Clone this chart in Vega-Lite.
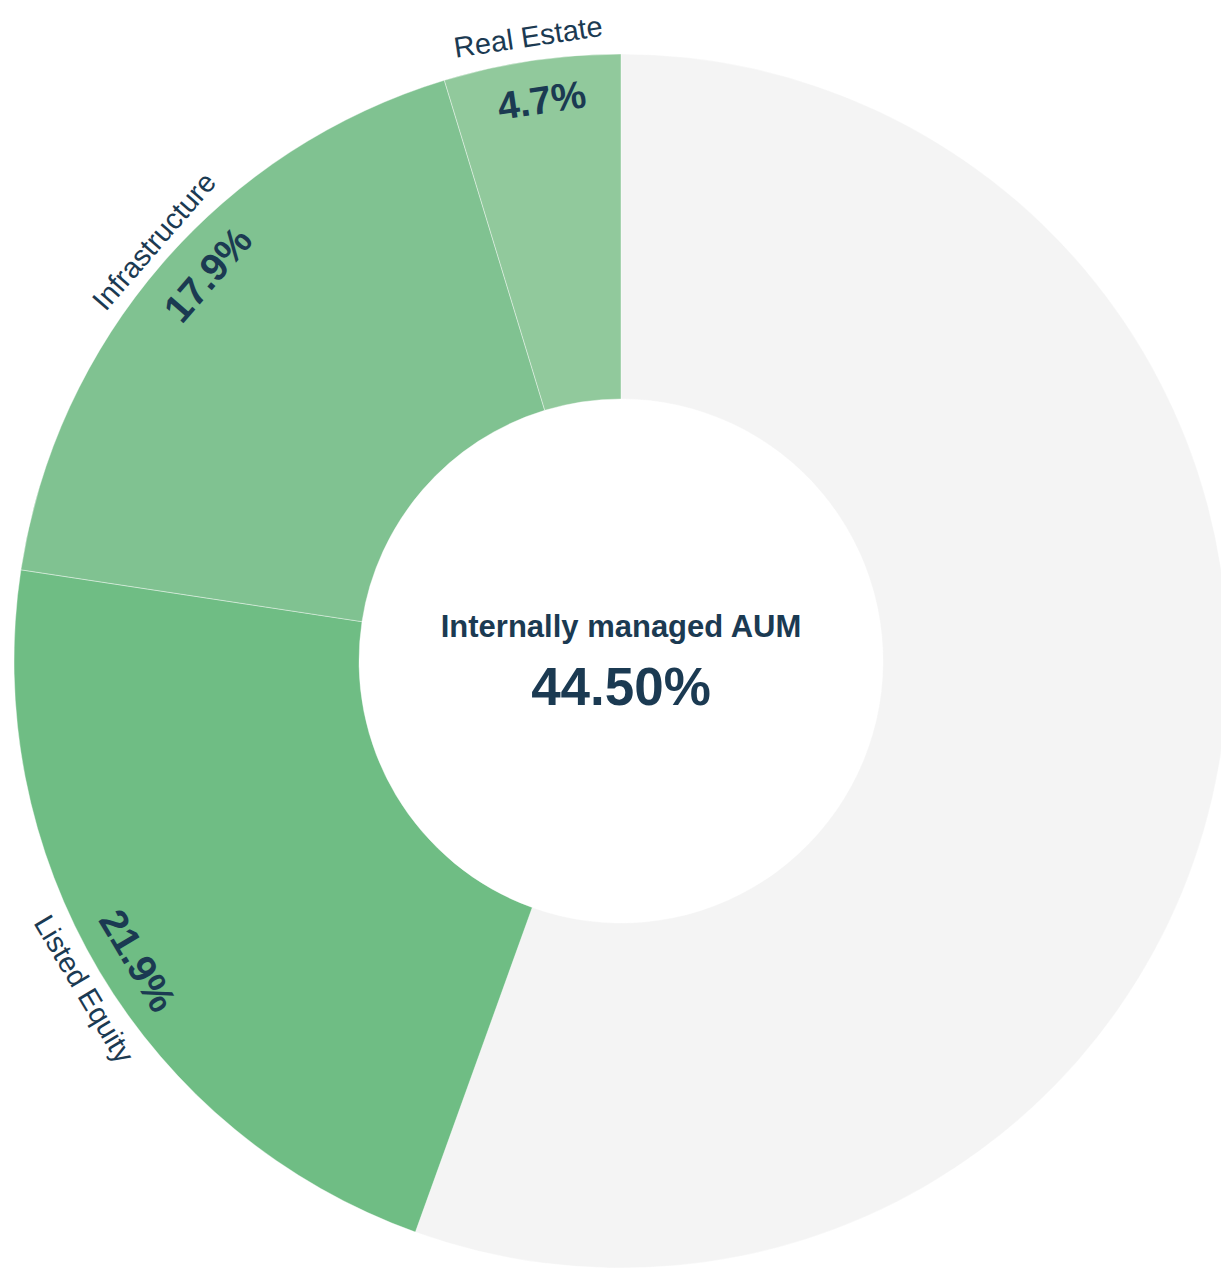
{
  "$schema": "https://vega.github.io/schema/vega-lite/v6.json",
  "autosize": {"type": "none"},
  "width": 1200,
  "height": 1218,
  "padding": {"left": 21, "top": 52, "right": 0, "bottom": 0},
  "background": "#ffffff",
  "config": {"view": {"stroke": null}, "font": "Liberation Sans"},
  "datasets": {
    "aum": [
      {"category": "Other", "value": 55.5, "label": ""},
      {"category": "Listed Equity", "value": 21.9, "label": "21.9%"},
      {"category": "Infrastructure", "value": 17.9, "label": "17.9%"},
      {"category": "Real Estate", "value": 4.7, "label": "4.7%"}
    ],
    "center": [{"title": "Internally managed AUM", "total": "44.50%"}]
  },
  "layer": [
    {
      "data": {"name": "aum"},
      "transform": [{"calculate": "indexof(['Other','Listed Equity','Infrastructure','Real Estate'], datum.category)", "as": "rank"}],
      "mark": {"type": "arc", "outerRadius": 607, "innerRadius": 262, "stroke": "#ffffff", "strokeWidth": 0.4},
      "encoding": {
        "theta": {"field": "value", "type": "quantitative", "stack": true},
        "order": {"field": "rank", "type": "quantitative"},
        "color": {
          "field": "category", "type": "nominal", "legend": null,
          "scale": {"domain": ["Other", "Listed Equity", "Infrastructure", "Real Estate"], "range": ["#f4f4f4", "#6fbd84", "#80c291", "#91c99c"]}
        }
      }
    },
    {
      "data": {"name": "aum"},
      "transform": [{"calculate": "indexof(['Other','Listed Equity','Infrastructure','Real Estate'], datum.category)", "as": "rank"}],
      "mark": {"type": "text", "radius": 630, "fontSize": 29, "color": "#1b3a52", "align": "center", "baseline": "middle", "angle": 351.5, "dx": 0},
      "encoding": {
        "theta": {"field": "value", "type": "quantitative", "stack": true},
        "order": {"field": "rank", "type": "quantitative"},
        "text": {"condition": {"test": "datum.category !== 'Real Estate'", "value": ""}, "field": "category", "type": "nominal"}
      }
    },
    {
      "data": {"name": "aum"},
      "transform": [{"calculate": "indexof(['Other','Listed Equity','Infrastructure','Real Estate'], datum.category)", "as": "rank"}],
      "mark": {"type": "text", "radius": 627, "fontSize": 29, "color": "#1b3a52", "align": "center", "baseline": "middle", "angle": 311, "dx": 12},
      "encoding": {
        "theta": {"field": "value", "type": "quantitative", "stack": true},
        "order": {"field": "rank", "type": "quantitative"},
        "text": {"condition": {"test": "datum.category !== 'Infrastructure'", "value": ""}, "field": "category", "type": "nominal"}
      }
    },
    {
      "data": {"name": "aum"},
      "transform": [{"calculate": "indexof(['Other','Listed Equity','Infrastructure','Real Estate'], datum.category)", "as": "rank"}],
      "mark": {"type": "text", "radius": 630, "fontSize": 29, "color": "#1b3a52", "align": "center", "baseline": "middle", "angle": 59.2, "dx": 7},
      "encoding": {
        "theta": {"field": "value", "type": "quantitative", "stack": true},
        "order": {"field": "rank", "type": "quantitative"},
        "text": {"condition": {"test": "datum.category !== 'Listed Equity'", "value": ""}, "field": "category", "type": "nominal"}
      }
    },
    {
      "data": {"name": "aum"},
      "transform": [{"calculate": "indexof(['Other','Listed Equity','Infrastructure','Real Estate'], datum.category)", "as": "rank"}],
      "mark": {"type": "text", "radius": 565, "fontSize": 39, "fontWeight": "bold", "color": "#1b3a52", "align": "center", "baseline": "middle", "angle": 351.5, "dx": 4},
      "encoding": {
        "theta": {"field": "value", "type": "quantitative", "stack": true},
        "order": {"field": "rank", "type": "quantitative"},
        "text": {"condition": {"test": "datum.category !== 'Real Estate'", "value": ""}, "field": "label", "type": "nominal"}
      }
    },
    {
      "data": {"name": "aum"},
      "transform": [{"calculate": "indexof(['Other','Listed Equity','Infrastructure','Real Estate'], datum.category)", "as": "rank"}],
      "mark": {"type": "text", "radius": 564, "fontSize": 39, "fontWeight": "bold", "color": "#1b3a52", "align": "center", "baseline": "middle", "angle": 311, "dx": 22},
      "encoding": {
        "theta": {"field": "value", "type": "quantitative", "stack": true},
        "order": {"field": "rank", "type": "quantitative"},
        "text": {"condition": {"test": "datum.category !== 'Infrastructure'", "value": ""}, "field": "label", "type": "nominal"}
      }
    },
    {
      "data": {"name": "aum"},
      "transform": [{"calculate": "indexof(['Other','Listed Equity','Infrastructure','Real Estate'], datum.category)", "as": "rank"}],
      "mark": {"type": "text", "radius": 570, "fontSize": 39, "fontWeight": "bold", "color": "#1b3a52", "align": "center", "baseline": "middle", "angle": 59.2, "dx": 10},
      "encoding": {
        "theta": {"field": "value", "type": "quantitative", "stack": true},
        "order": {"field": "rank", "type": "quantitative"},
        "text": {"condition": {"test": "datum.category !== 'Listed Equity'", "value": ""}, "field": "label", "type": "nominal"}
      }
    },
    {
      "data": {"name": "center"},
      "mark": {"type": "text", "fontSize": 31, "fontWeight": "bold", "color": "#1b3a52", "align": "center", "baseline": "middle", "dy": -33},
      "encoding": {"text": {"field": "title", "type": "nominal"}}
    },
    {
      "data": {"name": "center"},
      "mark": {"type": "text", "fontSize": 53, "fontWeight": "bold", "color": "#1b3a52", "align": "center", "baseline": "middle", "dy": 28},
      "encoding": {"text": {"field": "total", "type": "nominal"}}
    }
  ]
}
